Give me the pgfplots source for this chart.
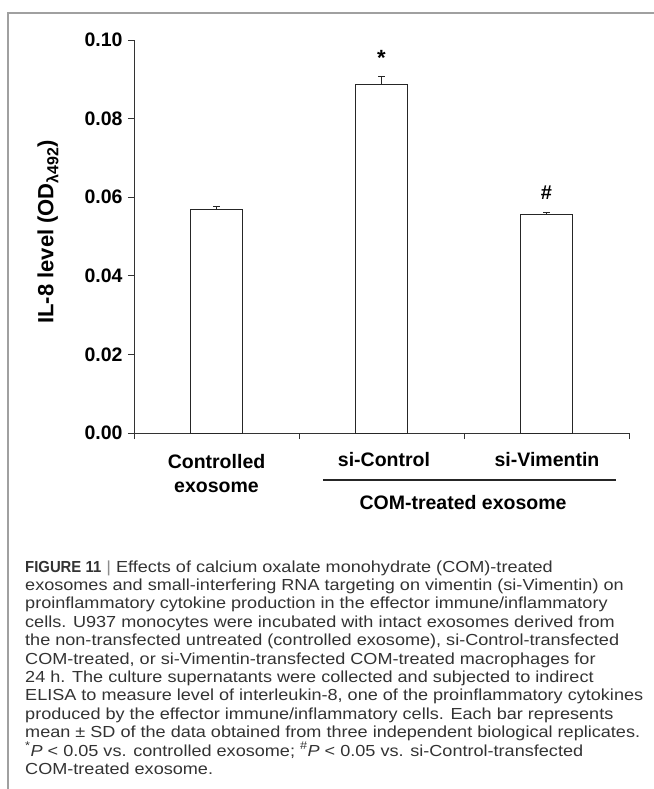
\documentclass[border=0pt]{standalone}
\usepackage{fontspec}
\setmainfont{Liberation Sans}
\newfontfamily\capfont[FakeStretch=1.13]{Liberation Sans}
\newfontfamily\capcond[FakeStretch=0.93]{Liberation Sans}
\usepackage{pgfplots}
\pgfplotsset{compat=1.18}
\definecolor{framegray}{HTML}{A0A0A0}
\definecolor{axisgray}{HTML}{333333}
\definecolor{captext}{HTML}{333333}
\newcommand{\chartfont}{\fontsize{19.5bp}{22bp}\selectfont\bfseries}
\begin{document}
\begin{tikzpicture}
\useasboundingbox (0,0) rectangle (654bp,-789bp);
\draw[framegray, line width=1.3bp] (654bp,-13bp) -- (8bp,-13bp) -- (8bp,-789bp);
\begin{axis}[
  at={(134bp,-433bp)}, anchor=south west,
  scale only axis, width=495bp, height=393bp,
  xmin=0, xmax=3, ymin=0, ymax=0.1,
  axis x line*=bottom, axis y line*=left,
  axis line style={line width=1bp, color=axisgray},
  xtick={0,1,2,3}, xticklabels={},
  ytick={0,0.02,0.04,0.06,0.08,0.1},
  tick align=outside, major tick length=6bp,
  tick style={line width=1bp, color=axisgray},
  yticklabel style={xshift=-2bp, /pgf/number format/.cd, fixed, fixed zerofill, precision=2, assume math mode=true},
  tick label style={font=\chartfont},
  clip=false,
]
\addplot[ybar, bar width=51.5bp, fill=white, draw=black!85, line width=0.9bp,
  error bars/.cd, y dir=plus, y explicit,
  error bar style={line width=0.9bp, black!85},
  error mark options={rotate=90, mark size=3.5bp, line width=0.9bp, black!85}]
  coordinates {(0.5,0.0568) +- (0,0.0009) (1.5,0.0887) +- (0,0.0021) (2.5,0.0556) +- (0,0.0006)};
\node[anchor=base, font=\fontsize{22bp}{22bp}\selectfont\bfseries] at (axis cs:1.5,0.0935) {*};
\node[anchor=base, font=\fontsize{20bp}{20bp}\selectfont\bfseries] at (axis cs:2.5,0.0594) {\#};
\draw[line width=1.5bp, black!85] ([yshift=-47bp]axis cs:1.144,0) -- ([yshift=-47bp]axis cs:2.921,0);
\end{axis}
% y label
\node[rotate=90, anchor=center, font=\fontsize{22bp}{22bp}\selectfont\bfseries, inner sep=0pt] at (48bp,-232bp)
  {IL-8 level (OD\raisebox{-0.22em}{\fontsize{16bp}{16bp}\selectfont λ492})};
% category labels
\node[anchor=base, font=\chartfont] at (216.5bp,-468bp) {Controlled};
\node[anchor=base, font=\chartfont] at (216.5bp,-492bp) {exosome};
\node[anchor=base, font=\chartfont] at (384bp,-466bp) {si-Control};
\node[anchor=base, font=\chartfont] at (547bp,-466bp) {si-Vimentin};
\node[anchor=base, font=\chartfont] at (463bp,-509bp) {COM-treated exosome};
% caption
\begin{scope}[every node/.style={anchor=base west, inner sep=0pt, text=captext, font=\capfont\fontsize{16bp}{18.4bp}\selectfont}]
\node at (25bp,-572bp) {{\capcond\bfseries FIGURE 11} {\color{black!45}|} Effects of calcium oxalate monohydrate (COM)-treated};
\node at (25bp,-590.4bp) {exosomes and small-interfering RNA targeting on vimentin (si-Vimentin) on};
\node at (25bp,-608.8bp) {proinflammatory cytokine production in the effector immune/inflammatory};
\node at (25bp,-627.2bp) {cells. U937 monocytes were incubated with intact exosomes derived from};
\node at (25bp,-645.6bp) {the non-transfected untreated (controlled exosome), si-Control-transfected};
\node at (25bp,-664bp) {COM-treated, or si-Vimentin-transfected COM-treated macrophages for};
\node at (25bp,-682.4bp) {24 h. The culture supernatants were collected and subjected to indirect};
\node at (25bp,-700.8bp) {ELISA to measure level of interleukin-8, one of the proinflammatory cytokines};
\node at (25bp,-719.2bp) {produced by the effector immune/inflammatory cells. Each bar represents};
\node at (25bp,-737.6bp) {mean ± SD of the data obtained from three independent biological replicates.};
\node at (25bp,-756bp) {\textsuperscript{*}\textit{P} < 0.05 vs. controlled exosome; \textsuperscript{\#}\textit{P} < 0.05 vs. si-Control-transfected};
\node at (25bp,-774.4bp) {COM-treated exosome.};
\end{scope}
\end{tikzpicture}
\end{document}
